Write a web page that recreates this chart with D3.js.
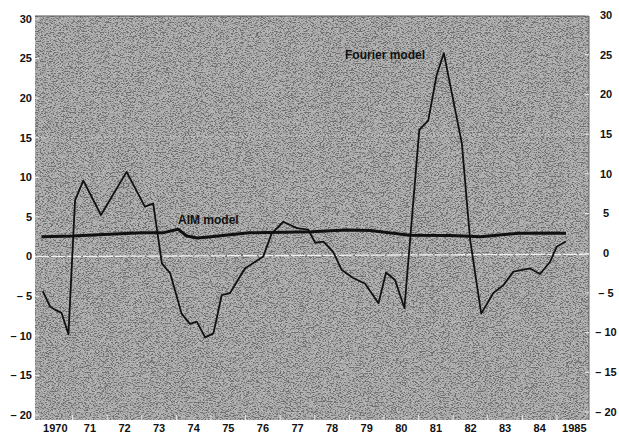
<!DOCTYPE html>
<html>
<head>
<meta charset="utf-8">
<script src="https://cdn.jsdelivr.net/npm/d3@7"></script>
<style>
  body { margin: 0; background: #fff; }
  svg text { font-family: "Liberation Sans", Arial, sans-serif; font-weight: bold; fill: #111; }
</style>
</head>
<body>
<svg id="chart" width="619" height="435"></svg>
<script>
// Fourier model: [year, percent]
const fourierYears = [1970.14, 1970.35, 1970.49, 1970.68, 1970.88, 1971.07, 1971.31, 1971.82, 1972.56, 1973.09,
  1973.33, 1973.58, 1973.82, 1974.15, 1974.39, 1974.59, 1974.83, 1975.07, 1975.31, 1975.55,
  1975.98, 1976.51, 1976.75, 1977.09, 1977.48, 1977.81, 1978.01, 1978.25, 1978.53, 1978.78,
  1979.11, 1979.45, 1979.84, 1980.06, 1980.32, 1980.59, 1981.02, 1981.28, 1981.52, 1981.73,
  1982.25, 1982.49, 1982.81, 1983.16, 1983.45, 1983.74, 1984.22, 1984.51, 1984.80, 1984.99, 1985.26]
const fourierValues = [-4.4, -6.3, -6.7, -7.1, -9.8, 7.1, 9.6, 5.25, 10.7, 6.3,
  6.7, -0.85, -2.1, -7.2, -8.5, -8.2, -10.2, -9.7, -4.85, -4.6,
  -1.5, 0, 2.9, 4.4, 3.6, 3.4, 1.75, 1.9, 0.6, -1.7,
  -2.7, -3.4, -5.9, -2.0, -2.95, -6.5, 16.0, 17.2, 22.9, 25.7,
  14.3, 2.1, -7.2, -4.6, -3.6, -1.9, -1.5, -2.2, -0.65, 1.25, 1.9]

// AIM model
const aimYears = [1970.1, 1971.0, 1972.2, 1973.0, 1973.6, 1974.05, 1974.3, 1974.6, 1975.0, 1976.1,
  1977.9, 1978.9, 1979.6, 1980.75, 1981.9, 1982.8, 1983.9, 1985.26]
const aimValues = [2.5, 2.6, 2.85, 3.0, 3.0, 3.45, 2.6, 2.35, 2.5, 3.0,
  3.15, 3.35, 3.3, 2.7, 2.65, 2.5, 2.95, 2.95]

const yTicks = [30, 25, 20, 15, 10, 5, 0, -5, -10, -15, -20]
const yearLabels = ["1970", "71", "72", "73", "74", "75", "76", "77", "78", "79", "80", "81", "82", "83", "84", "1985"]

const svg = d3.select("#chart")

const x = d3.scaleLinear().domain([1970, 1986]).range([38, 591.6])
const yLeft = d3.scaleLinear().domain([-20, 30]).range([415, 19])
// the scan is a bit skewed, right hand labels sit a little higher
const yRight = d3.scaleLinear().domain([-20, 30]).range([412, 15])

// halftone-ish background: light speckle over grey
const defs = svg.append("defs")
const filt = defs.append("filter").attr("id", "grain")
  .attr("x", 0).attr("y", 0).attr("width", "100%").attr("height", "100%")
filt.append("feTurbulence").attr("type", "fractalNoise")
  .attr("baseFrequency", "0.6 1.2").attr("numOctaves", 1).attr("seed", 7)
filt.append("feColorMatrix").attr("type", "matrix")
  .attr("values", "5 0 0 0 -2  5 0 0 0 -2  5 0 0 0 -2  0 0 0 0 0.28")

const plotL = 35, plotR = 589, plotT = 16, plotB = 420

svg.append("rect")
  .attr("x", plotL).attr("y", plotT)
  .attr("width", plotR - plotL).attr("height", plotB - plotT)
  .attr("fill", "#9b9b9b")
svg.append("rect")
  .attr("x", plotL).attr("y", plotT)
  .attr("width", plotR - plotL).attr("height", plotB - plotT)
  .attr("fill", "#fff")
  .attr("filter", "url(#grain)")

// darker frame on top / right
svg.append("line").attr("x1", plotL).attr("x2", plotR).attr("y1", plotT).attr("y2", plotT)
  .attr("stroke", "#555").attr("stroke-width", 1.2)
svg.append("line").attr("x1", plotR).attr("x2", plotR).attr("y1", plotT).attr("y2", plotB)
  .attr("stroke", "#666").attr("stroke-width", 1)

// faint white zero line and dotted 15 line
svg.append("line")
  .attr("x1", plotL).attr("x2", plotR)
  .attr("y1", yLeft(0)).attr("y2", yRight(0) + 1)
  .attr("stroke", "#fff").attr("stroke-width", 1.3).attr("opacity", 0.85)
  .attr("stroke-dasharray", "14,2")
svg.append("line")
  .attr("x1", plotL).attr("x2", plotR)
  .attr("y1", yLeft(15)).attr("y2", yRight(15))
  .attr("stroke", "#e0e0e0").attr("stroke-width", 1).attr("opacity", 0.7)
  .attr("stroke-dasharray", "1,2")

// tick marks inside the frame
svg.append("g").selectAll("line.lt")
  .data(yTicks)
  .join("line")
  .attr("class", "lt")
  .attr("x1", plotL).attr("x2", plotL + 4)
  .attr("y1", (d) => yLeft(d)).attr("y2", (d) => yLeft(d))
  .attr("stroke", "#eee").attr("stroke-width", 1)
svg.append("g").selectAll("line.rt")
  .data(yTicks)
  .join("line")
  .attr("class", "rt")
  .attr("x1", plotR - 4).attr("x2", plotR)
  .attr("y1", (d) => yRight(d)).attr("y2", (d) => yRight(d))
  .attr("stroke", "#eee").attr("stroke-width", 1)
svg.append("g").selectAll("line.bt")
  .data(d3.range(1971, 1986))
  .join("line")
  .attr("class", "bt")
  .attr("x1", (d) => x(d)).attr("x2", (d) => x(d))
  .attr("y1", plotB - 5).attr("y2", plotB)
  .attr("stroke", "#eee").attr("stroke-width", 1)

const fmt = (d) => d < 0 ? "\u2013 " + Math.abs(d) : String(d)

// left axis labels
svg.append("g").selectAll("text")
  .data(yTicks)
  .join("text")
  .attr("x", 32)
  .attr("y", (d) => yLeft(d))
  .attr("dy", "0.35em")
  .attr("text-anchor", "end")
  .attr("font-size", 11)
  .text(fmt)

// right axis labels
svg.append("g").selectAll("text")
  .data(yTicks)
  .join("text")
  .attr("x", 606)
  .attr("y", (d) => yRight(d))
  .attr("dy", "0.35em")
  .attr("text-anchor", "middle")
  .attr("font-size", 11)
  .text(fmt)

// year labels centred in each year
svg.append("g").selectAll("text")
  .data(yearLabels)
  .join("text")
  .attr("x", (d, i) => x(1970 + i + 0.5))
  .attr("y", 432)
  .attr("text-anchor", "middle")
  .attr("font-size", 11)
  .text((d) => d)

const line = d3.line()
  .x((d) => x(d[0]))
  .y((d) => yLeft(d[1]))

const aim = aimYears.map((yr, i) => [yr, aimValues[i]])
const fourier = fourierYears.map((yr, i) => [yr, fourierValues[i]])

svg.append("path")
  .datum(aim)
  .attr("d", line)
  .attr("fill", "none")
  .attr("stroke", "#111")
  .attr("stroke-width", 3)
  .attr("stroke-linejoin", "round")

svg.append("path")
  .datum(fourier)
  .attr("d", line)
  .attr("fill", "none")
  .attr("stroke", "#111")
  .attr("stroke-width", 1.8)
  .attr("stroke-linejoin", "round")

// series labels
svg.append("text")
  .attr("x", 345).attr("y", 59)
  .attr("font-size", 12)
  .text("Fourier model")
svg.append("text")
  .attr("x", 178).attr("y", 224)
  .attr("font-size", 12)
  .text("AIM model")
</script>
</body>
</html>
